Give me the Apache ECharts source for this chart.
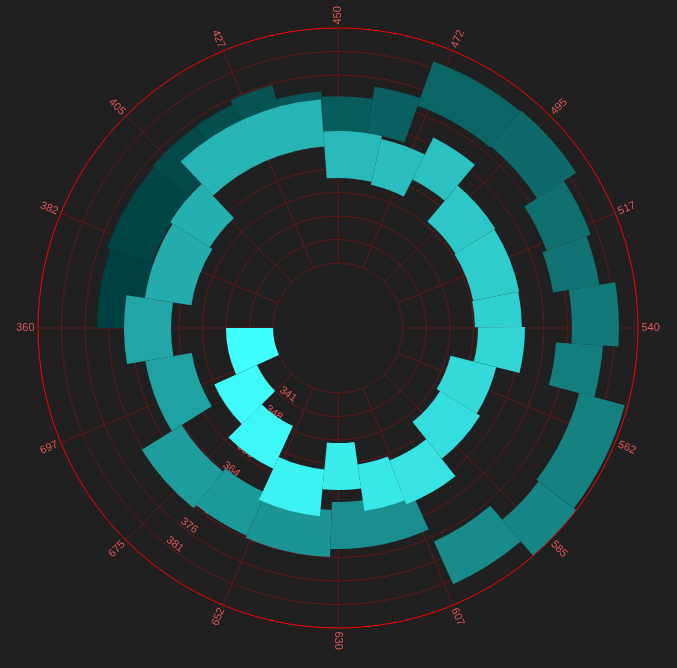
<!DOCTYPE html>
<html><head><meta charset="utf-8">
<script src="https://cdn.jsdelivr.net/npm/echarts@6/dist/echarts.min.js"></script>
<style>html,body{margin:0;padding:0;background:#202020;}#main{width:677px;height:668px;}</style>
</head><body><div id="main"></div>
<script>
// Angle-axis tick labels (every 22.5 units, starting at 360)
const angleTickLabels = ['360','382','405','427','450','472','495','517','540','562','585','607','630','652','675','697'];
// Radius-axis tick labels (one per radial tick, 0..10)
const radiusTickLabels = ['', '341', '348', '352', '356', '364', '368', '371', '376', '381', ''];
// Bars in spiral order: angular width (angle-axis units)
const barWidths = [24.5,20.5,20.3,19.2,13.7,13.0,17.2,19.9,17.8,14.2,11.1,20.9,17.7,13.4,13.7,17.2,39.1,14.4,23.4,18.5,22.1,19.5,15.0,21.7,26.2,16.4,12.0,22.3,11.3,13.15,10.95,12.8,16.8,20.4,11.1,12.6,11.1,10.2,9.7,13.8,22.0,19.2];
// Bars in spiral order: inner radius (radius-axis units)
const barRadii = [0,1.02,1.83,3.28,2.13,3.1,3.28,2.34,2.17,3.19,3.06,3.1,3.15,4.3,3.49,3.62,4.98,3.68,3.55,4.34,3.55,5.06,4.89,4.98,4.64,7.19,7.98,7.87,6.53,7.19,6.51,6.7,7.34,7.28,5.62,5.1,5.32,5.94,5.74,5.72,5.62,5.49];

const ANGLE_MIN = 360, ANGLE_MAX = 720, ANGLE_STEP = 22.5;
const BAR_THICKNESS = 2;   // radial thickness in radius-axis units
const ANGLE_START = 720;   // bars are stacked backwards from the axis end

// stack the widths along the angle axis
let acc = 0;
const barData = barWidths.map(function (w, i) {
  const from = ANGLE_START - acc;
  acc += w;
  return [i, from, ANGLE_START - acc, barRadii[i]];
});
const angleTickData = angleTickLabels.map(function (t, i) { return [0, ANGLE_MIN + ANGLE_STEP * i]; });

const chart = echarts.init(document.getElementById('main'), null, {renderer: 'canvas'});
const lineColor = '#631919';
const labelColor = '#e05757';
const circleColors = [];
for (let k = 0; k < 10; k++) circleColors.push(lineColor);
circleColors.push('#ff0000');

const option = {
  backgroundColor: '#202020',
  animation: false,
  polar: [
    {center: [338, 328], radius: [65, 300]},
    {center: [338, 328], radius: [65, 300]}
  ],
  angleAxis: [
    {
      polarIndex: 0, type: 'value', min: ANGLE_MIN, max: ANGLE_MAX, interval: ANGLE_STEP,
      startAngle: 180, clockwise: true,
      axisLine: {show: false},
      axisTick: {show: false},
      axisLabel: {show: false},
      splitLine: {show: true, lineStyle: {color: lineColor, width: 1}}
    },
    {
      polarIndex: 1, type: 'value', min: 0, max: 360, startAngle: 233,
      axisLine: {show: false}, axisTick: {show: false}, axisLabel: {show: false}, splitLine: {show: false}
    }
  ],
  radiusAxis: [
    {
      polarIndex: 0, type: 'value', min: 0, max: 10, interval: 1,
      axisLine: {show: false}, axisTick: {show: false}, axisLabel: {show: false},
      splitLine: {show: true, lineStyle: {color: circleColors, width: 1}}
    },
    {
      polarIndex: 1, type: 'value', min: 0, max: 10, interval: 1,
      axisLine: {show: false}, axisTick: {show: false}, splitLine: {show: false},
      axisLabel: {
        color: labelColor, fontSize: 11, margin: 0, rotate: -37,
        align: 'center', verticalAlign: 'bottom',
        formatter: function (v) { return radiusTickLabels[Math.round(v)] || ''; }
      }
    }
  ],
  visualMap: {
    show: false, type: 'continuous', seriesIndex: 0, dimension: 0,
    min: 0, max: barWidths.length - 1,
    inRange: {color: ['#40ffff', '#004040']}
  },
  series: [{
    type: 'custom',
    coordinateSystem: 'polar',
    polarIndex: 0,
    encode: {radius: 3, angle: 1},
    data: barData,
    renderItem: function (params, api) {
      const i = api.value(0), a0 = api.value(1), a1 = api.value(2), r0 = api.value(3);
      const cs = params.coordSys;
      const pIn0 = api.coord([r0, a0]);
      const pOut0 = api.coord([r0 + BAR_THICKNESS, a0]);
      const pIn1 = api.coord([r0, a1]);
      const R0 = Math.hypot(pIn0[0] - cs.cx, pIn0[1] - cs.cy);
      const R1 = Math.hypot(pOut0[0] - cs.cx, pOut0[1] - cs.cy);
      let s0 = Math.atan2(pIn0[1] - cs.cy, pIn0[0] - cs.cx);
      const s1 = Math.atan2(pIn1[1] - cs.cy, pIn1[0] - cs.cx);
      while (s0 < s1) s0 += Math.PI * 2;
      return {
        type: 'sector',
        z2: 100 - i,
        shape: {cx: cs.cx, cy: cs.cy, r0: R0, r: R1, startAngle: s1, endAngle: s0, clockwise: true},
        style: {fill: api.visual('color')}
      };
    }
  }, {
    // angle-axis tick labels, rotated along the radius
    type: 'custom',
    coordinateSystem: 'polar',
    polarIndex: 0,
    encode: {radius: 0, angle: 1},
    data: angleTickData,
    silent: true,
    z: 5,
    renderItem: function (params, api) {
      const cs = params.coordSys;
      const p = api.coord([0, api.value(1)]);
      const dx = p[0] - cs.cx, dy = p[1] - cs.cy;
      const len = Math.hypot(dx, dy);
      const ux = dx / len, uy = dy / len;
      const rr = cs.r + 3.5;
      const mathAngle = Math.atan2(-uy, ux); // counter-clockwise, radians
      let deg = mathAngle * 180 / Math.PI;
      if (deg < 0) deg += 360;
      const rightHalf = (deg <= 90.001 || deg >= 269.999);
      const rot = rightHalf ? mathAngle : mathAngle - Math.PI;
      return {
        type: 'text',
        x: cs.cx + ux * rr,
        y: cs.cy + uy * rr,
        rotation: rot,
        style: {
          text: angleTickLabels[params.dataIndex],
          fill: labelColor,
          fontSize: 11,
          align: rightHalf ? 'left' : 'right',
          verticalAlign: 'middle'
        }
      };
    }
  }]
};
chart.setOption(option);
</script>
</body></html>
